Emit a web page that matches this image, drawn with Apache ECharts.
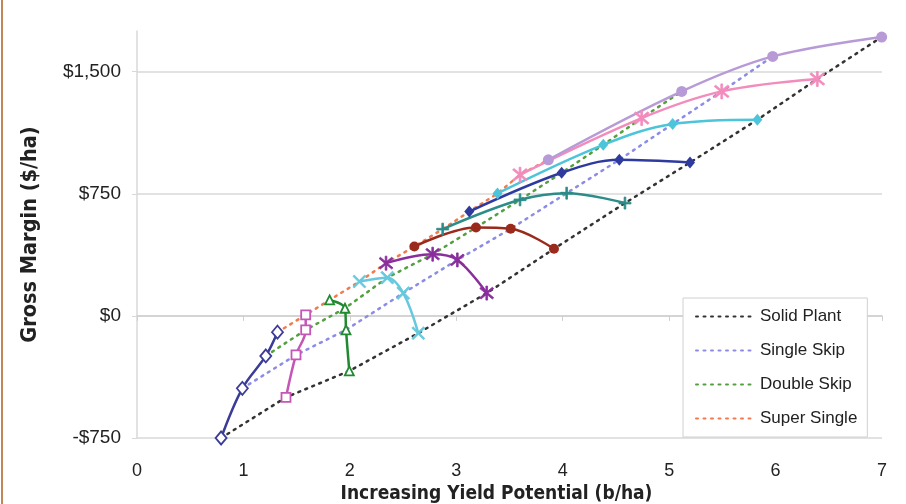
<!DOCTYPE html>
<html><head><meta charset="utf-8">
<script src="https://cdn.jsdelivr.net/npm/echarts@6/dist/echarts.min.js"></script>
<style>html,body{margin:0;padding:0;background:#fff}#c{width:906px;height:504px}</style>
</head><body><div id="c"></div>
<script>
// tick values
const xTicks = [0, 1, 2, 3, 4, 5, 6, 7];
const yTicks = [-750, 0, 750, 1500];
// configuration names (point order inside each curve)
const configs = ['Super Single', 'Double Skip', 'Single Skip', 'Solid Plant'];
const legendOrder = ['Solid Plant', 'Single Skip', 'Double Skip', 'Super Single'];
// curves: x (yield) and y (gross margin) for [super single, double skip, single skip, solid plant]
const c1x = [1.32, 1.21, 0.99, 0.79];   const c1y = [-100, -246, -445, -750];
const c2x = [1.585, 1.585, 1.494, 1.40]; const c2y = [6, -86, -240, -500];
const c3x = [1.81, 1.954, 1.964, 1.995]; const c3y = [98, 47, -86, -338];
const c4x = [2.09, 2.352, 2.502, 2.643]; const c4y = [211, 235, 140, -106];
const c5x = [2.34, 2.778, 3.01, 3.286];  const c5y = [324, 379, 344, 140];
const c6x = [2.606, 3.185, 3.511, 3.918]; const c6y = [426, 543, 535, 412];
const c7x = [2.872, 3.599, 4.037, 4.585]; const c7y = [533, 713, 754, 693];
const c8x = [3.122, 3.99, 4.532, 5.196]; const c8y = [641, 879, 959, 942];
const c9x = [3.387, 4.381, 5.033, 5.829]; const c9y = [752, 1051, 1179, 1205];
const c10x = [3.599, 4.742, 5.494, 6.392]; const c10y = [867, 1215, 1379, 1455];
const c11x = [3.865, 5.118, 5.973, 6.997]; const c11y = [959, 1379, 1594, 1713];

const curves = [[c1x,c1y],[c2x,c2y],[c3x,c3y],[c4x,c4y],[c5x,c5y],[c6x,c6y],[c7x,c7y],[c8x,c8y],[c9x,c9y],[c10x,c10y],[c11x,c11y]];

const X_PATH = 'path://M0,1 L1,0 L5,4 L9,0 L10,1 L6,5 L10,9 L9,10 L5,6 L1,10 L0,9 L4,5 Z';
const STAR_PATH = 'path://M0,1 L1,0 L5,4 L9,0 L10,1 L6,5 L10,9 L9,10 L5,6 L1,10 L0,9 L4,5 Z M4.4,-1 L5.6,-1 L5.6,11 L4.4,11 Z';
const PLUS_PATH = 'path://M4.3,0 L5.7,0 L5.7,4.3 L10,4.3 L10,5.7 L5.7,5.7 L5.7,10 L4.3,10 L4.3,5.7 L0,5.7 L0,4.3 L4.3,4.3 Z';

const curveStyles = [
  {color:'#3b3b98', symbol:'diamond', size:[11,13], hollow:true},
  {color:'#c456b6', symbol:'rect', size:9, hollow:true},
  {color:'#1f8a30', symbol:'triangle', size:9, hollow:true},
  {color:'#66c9dd', symbol:X_PATH, size:13},
  {color:'#8a2e9c', symbol:STAR_PATH, size:14},
  {color:'#9a2a1c', symbol:'circle', size:10},
  {color:'#2b8c88', symbol:PLUS_PATH, size:12},
  {color:'#2f3a9e', symbol:'diamond', size:[10,12]},
  {color:'#4cc5da', symbol:'diamond', size:[10,12]},
  {color:'#f28cbc', symbol:STAR_PATH, size:15},
  {color:'#b89ad6', symbol:'circle', size:11}
];
const dotColors = {'Solid Plant':'#333333','Single Skip':'#8c8ce6','Double Skip':'#54a040','Super Single':'#f27a4c'};

const series = [];
legendOrder.forEach(name => {
  const k = configs.indexOf(name);
  series.push({
    name, type:'line', symbol:'none', silent:true, z:1,
    data: curves.map(c => [c[0][k], c[1][k]]),
    lineStyle:{color:dotColors[name], width:2.5, type:[2,5.5], cap:'round'},
    itemStyle:{color:dotColors[name]}
  });
});
curves.forEach((c, i) => {
  const st = curveStyles[i];
  series.push({
    name:'curve'+(i+1), type:'line', smooth:0.35, z:3,
    data: c[0].map((x, j) => [x, c[1][j]]),
    symbol: st.symbol, symbolSize: st.size, showSymbol:true,
    lineStyle:{color:st.color, width:2.5},
    itemStyle: st.hollow ? {color:'#fff', borderColor:st.color, borderWidth:1.8} : {color:st.color, borderColor:st.color, borderWidth:st.symbol.startsWith('path')?0.8:0}
  });
});

function money(v){
  const a = Math.abs(v).toString().replace(/\B(?=(\d{3})+(?!\d))/g, ',');
  return (v < 0 ? '-$' : '$') + a;
}

const chart = echarts.init(document.getElementById('c'), null, {renderer:'canvas'});
chart.setOption({
  backgroundColor:'#fff',
  animation:false,
  grid:{left:137, right:24, top:31, bottom:66, containLabel:false, outerBoundsMode:'none'},
  xAxis:{
    type:'value', min:0, max:7, interval:1,
    name:'Increasing Yield Potential (b/ha)', nameLocation:'middle', nameGap:37,
    nameTextStyle:{fontFamily:'Liberation Sans Narrow, DejaVu Sans Condensed, Liberation Sans, sans-serif', fontWeight:'bold', fontSize:19, color:'#222', padding:[0,26,0,0]},
    axisLine:{show:true, lineStyle:{color:'#cfcfcf', width:1.5}},
    axisTick:{show:true, length:5, lineStyle:{color:'#cfcfcf'}},
    axisLabel:{margin:24, fontFamily:'Liberation Sans, Arial, sans-serif', fontSize:18, color:'#222', customValues:xTicks},
    splitLine:{show:false}
  },
  yAxis:{
    type:'value', min:-750, max:1750, interval:750,
    name:'Gross Margin ($/ha)', nameLocation:'middle', nameGap:96, nameRotate:90,
    nameTextStyle:{fontFamily:'Liberation Sans Narrow, DejaVu Sans Condensed, Liberation Sans, sans-serif', fontWeight:'bold', fontSize:21.5, color:'#222'},
    axisLine:{show:true, lineStyle:{color:'#d8d8d8', width:1.5}},
    axisTick:{show:true, length:5, lineStyle:{color:'#d8d8d8'}, customValues:yTicks},
    axisLabel:{margin:16, fontFamily:'Liberation Sans, Arial, sans-serif', fontSize:19, color:'#222', formatter:money, customValues:yTicks},
    splitLine:{show:true, lineStyle:{color:'#e2e2e2', width:2}}
  },
  legend:{
    data:legendOrder, orient:'vertical', left:683, top:298,
    backgroundColor:'#fff', borderColor:'#d0d0d0', borderWidth:1, borderRadius:0,
    padding:[10,10,10,12], itemWidth:57, itemHeight:14, itemGap:17,
    itemStyle:{opacity:0},
    textStyle:{fontFamily:'Liberation Sans, Arial, sans-serif', fontSize:17, color:'#222', padding:[0,0,0,2]}
  },
  graphic:[{type:'rect', shape:{x:1, y:0, width:2, height:504}, style:{fill:'#c08858'}, silent:true}],
  series
});
</script></body></html>
